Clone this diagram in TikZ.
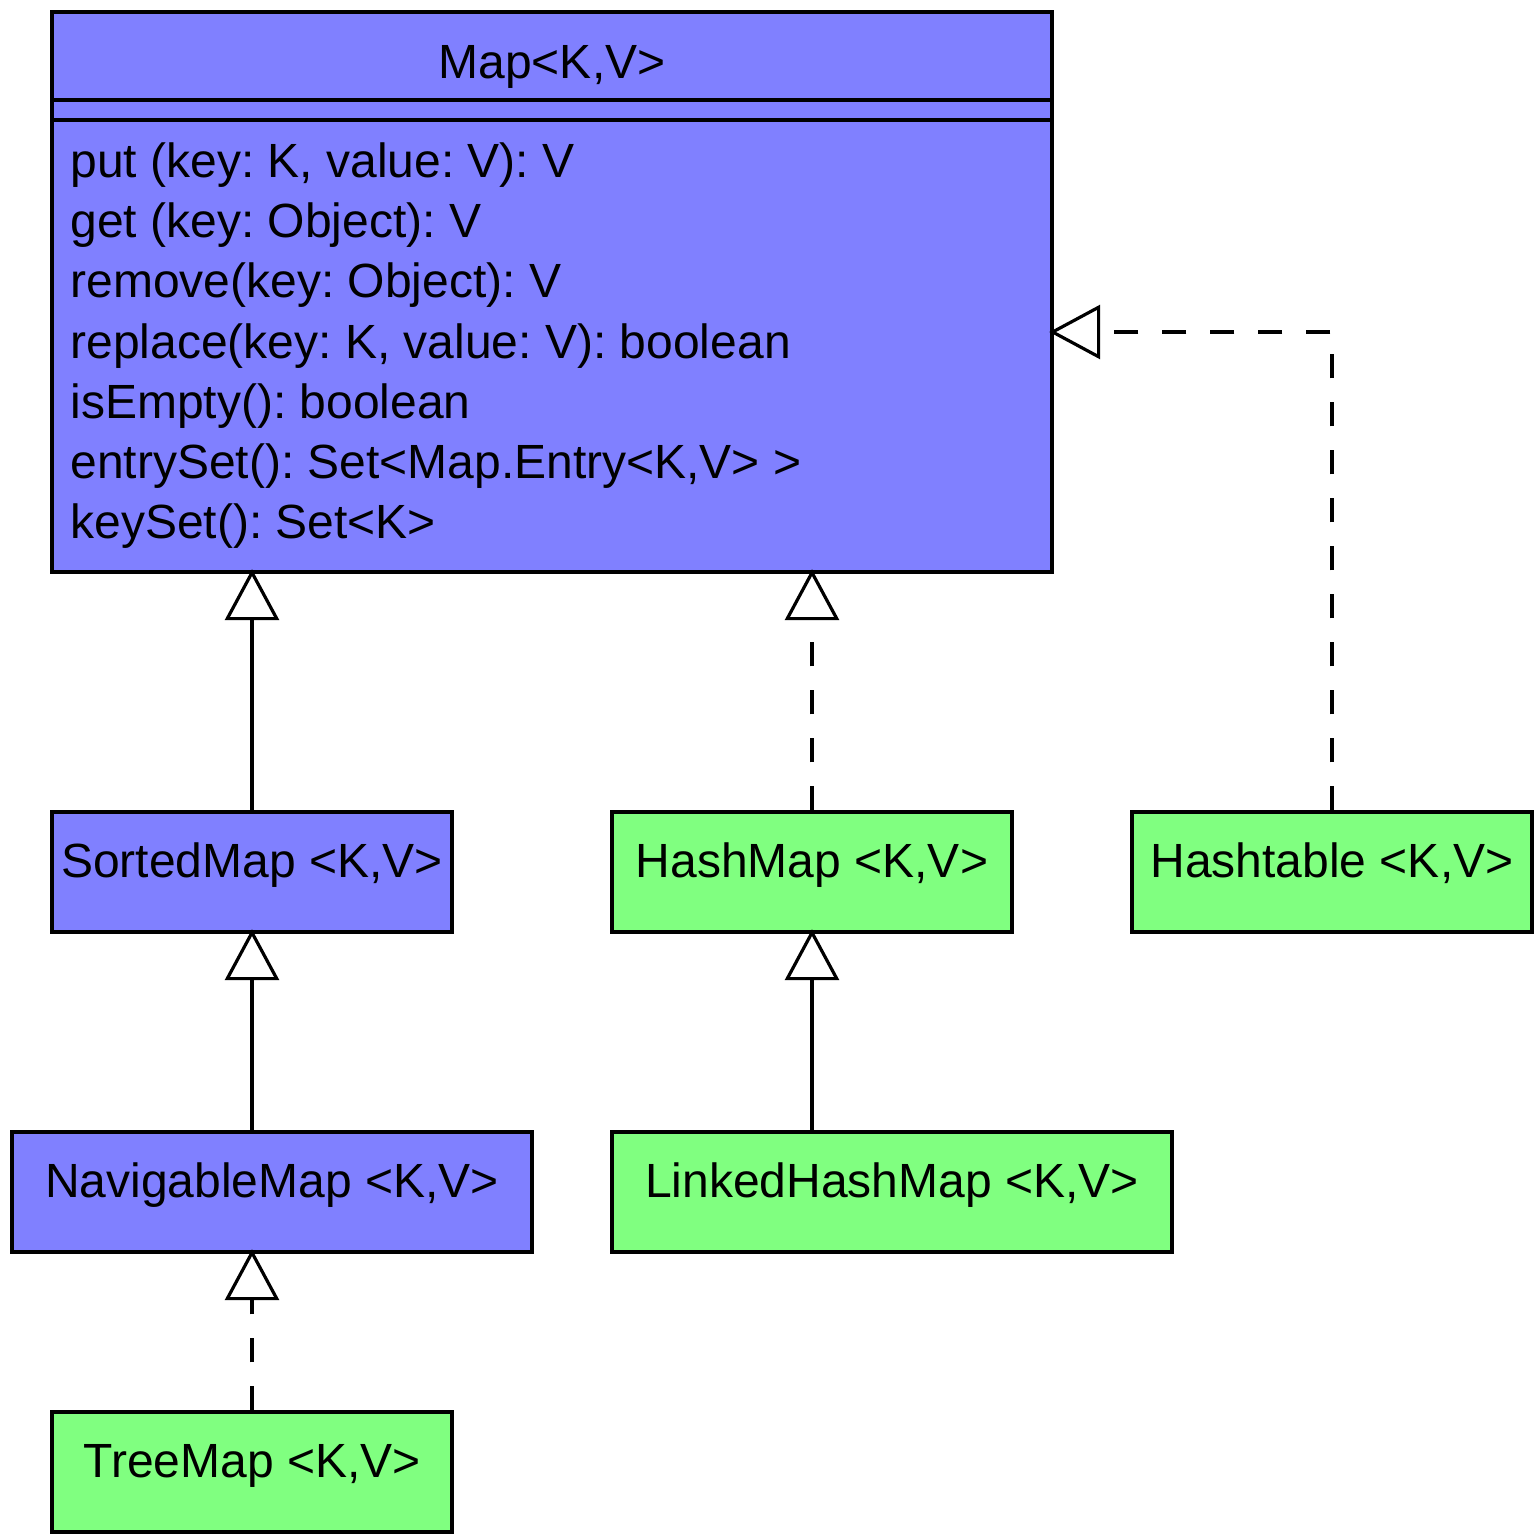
\documentclass[tikz,border=0pt]{standalone}
\usepackage{fontspec}
\setmainfont{Liberation Sans}
\frenchspacing
\usetikzlibrary{arrows.meta}
\definecolor{ifblue}{HTML}{8080FF}
\definecolor{clgreen}{HTML}{80FF80}
\begin{document}
\begin{tikzpicture}[x=0.5pt,y=-0.5pt,
  every node/.style={font=\fontsize{24}{28}\selectfont\frenchspacing},
  box/.style={draw=black, line width=1.6pt, inner sep=0pt, text height=12pt, text depth=7pt},
  ibox/.style={box, fill=ifblue},
  cbox/.style={box, fill=clgreen},
  small/.style={minimum width=200pt, minimum height=60pt},
  inh/.style={draw=black, line width=1.6pt, shorten >=-2.2pt, -{Triangle[open, length=25.5pt, width=27pt, line width=1.6pt]}},
  real/.style={inh, dash pattern=on 12pt off 12pt},
  txt/.style={anchor=base west, inner sep=0pt}
]
\useasboundingbox (0,0) rectangle (1540,1540);
% Map interface
\node[ibox, minimum width=500pt, minimum height=280pt] (map) at (552,292) {};
\node[anchor=base, inner sep=0pt] (maptitle) at (552,79) {Map<K,V>};
\draw[line width=1.6pt] (map.west |- 0,100) -- (map.east |- 0,100);
\draw[line width=1.6pt] (map.west |- 0,120) -- (map.east |- 0,120);
\node[txt] (m1) at (70,178) {put (key: K, value: V): V};
\node[txt] (m2) at (70,238) {get (key: Object): V};
\node[txt] (m3) at (70,298) {remove(key: Object): V};
\node[txt] (m4) at (70,358) {replace(key: K, value: V): boolean};
\node[txt] (m5) at (70,418) {isEmpty(): boolean};
\node[txt] (m6) at (70,478) {entrySet(): Set<Map.Entry<K,V> >};
\node[txt] (m7) at (70,538) {keySet(): Set<K>};
% subtypes
\node[ibox, small] (sorted) at (252,872) {SortedMap <K,V>};
\node[cbox, small] (hash) at (812,872) {HashMap <K,V>};
\node[cbox, small] (htable) at (1332,872) {Hashtable <K,V>};
\node[ibox, minimum width=260pt, minimum height=60pt] (nav) at (272,1192) {NavigableMap <K,V>};
\node[cbox, minimum width=280pt, minimum height=60pt] (linked) at (892,1192) {LinkedHashMap <K,V>};
\node[cbox, small] (tree) at (252,1472) {TreeMap <K,V>};
% connectors
\draw[inh] (sorted.north) -- (sorted.north |- map.south);
\draw[real] (hash.north) -- (hash.north |- map.south);
\draw[real] (htable.north) |- ([yshift=-20pt]map.east);
\draw[inh] (nav.north -| sorted.south) -- (sorted.south);
\draw[inh] (linked.north -| hash.south) -- (hash.south);
\draw[real] (tree.north) -- (tree.north |- nav.south);
\end{tikzpicture}
\end{document}
